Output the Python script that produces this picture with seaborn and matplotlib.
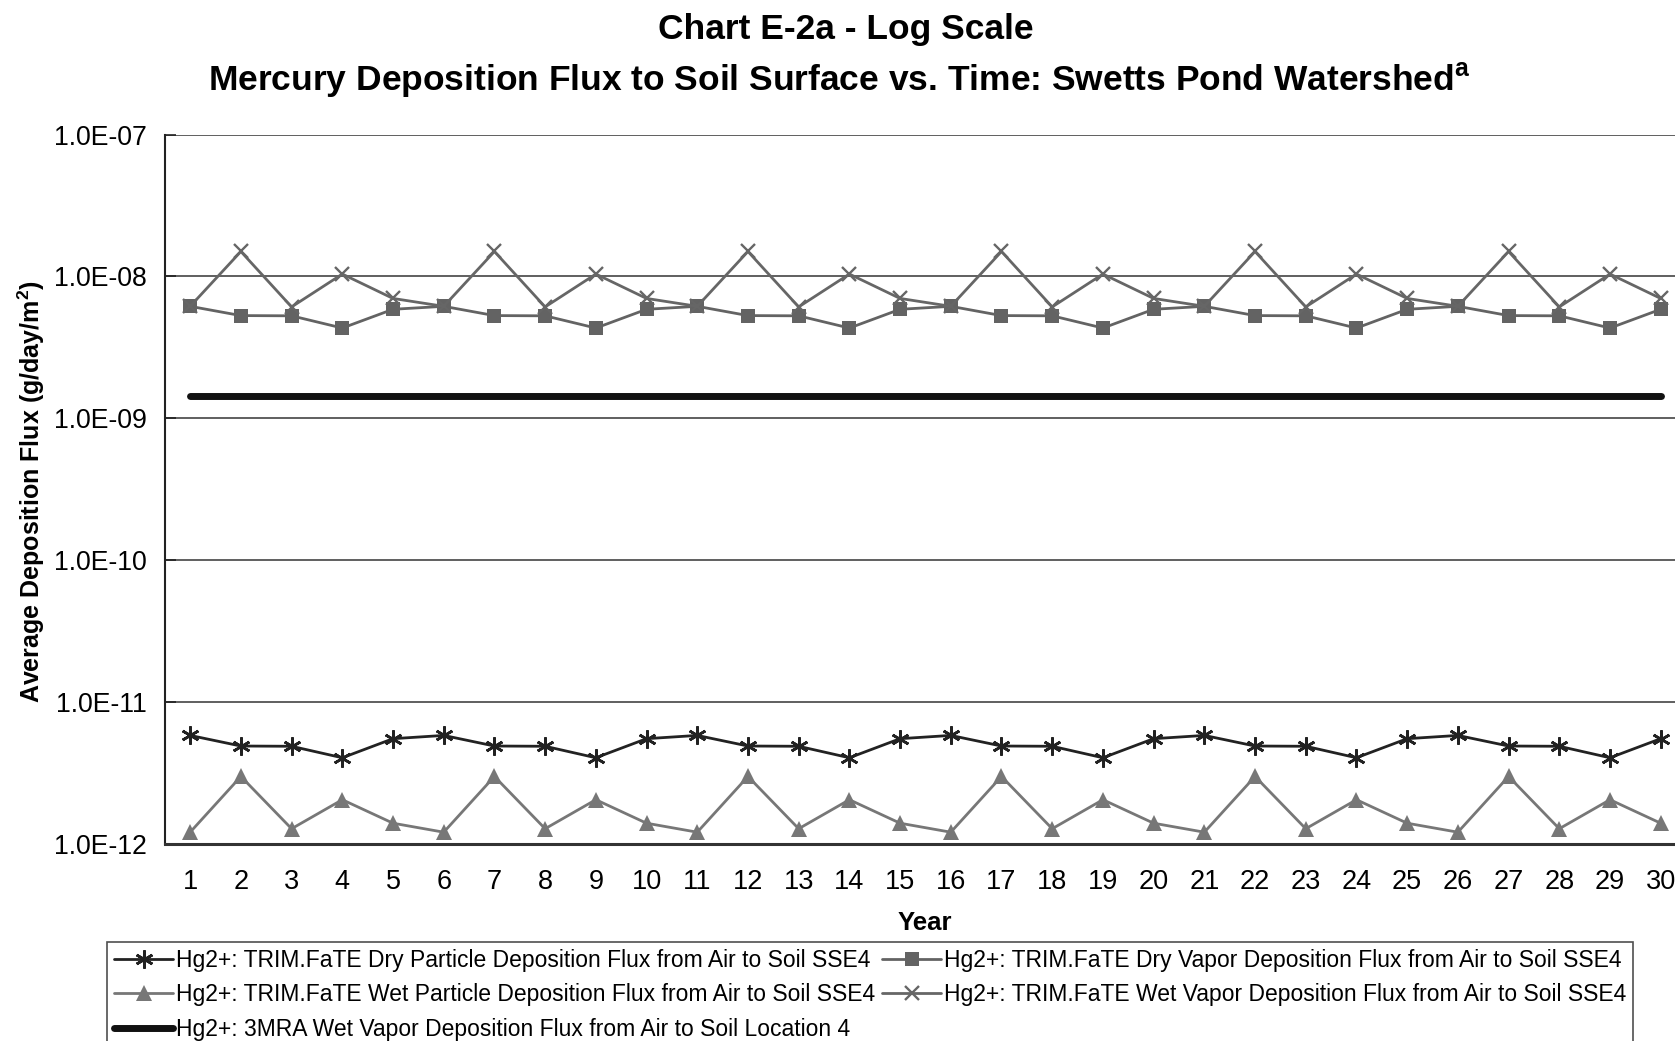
import matplotlib
matplotlib.use("Agg")
import matplotlib.pyplot as plt
import matplotlib.ticker as mticker
import seaborn as sns
import pandas as pd

years = list(range(1, 31))
year_labels = [str(y) for y in years]
ytick_values = [1e-12, 1e-11, 1e-10, 1e-9, 1e-8, 1e-7]

dry_particle = [5.82e-12, 4.90e-12, 4.88e-12, 4.05e-12, 5.52e-12,
                5.82e-12, 4.90e-12, 4.88e-12, 4.05e-12, 5.52e-12,
                5.82e-12, 4.90e-12, 4.88e-12, 4.05e-12, 5.52e-12,
                5.82e-12, 4.90e-12, 4.88e-12, 4.05e-12, 5.52e-12,
                5.82e-12, 4.90e-12, 4.88e-12, 4.05e-12, 5.52e-12,
                5.82e-12, 4.90e-12, 4.88e-12, 4.05e-12, 5.52e-12]
dry_vapor = [6.16e-9, 5.30e-9, 5.28e-9, 4.33e-9, 5.87e-9,
             6.16e-9, 5.30e-9, 5.28e-9, 4.33e-9, 5.87e-9,
             6.16e-9, 5.30e-9, 5.28e-9, 4.33e-9, 5.87e-9,
             6.16e-9, 5.30e-9, 5.28e-9, 4.33e-9, 5.87e-9,
             6.16e-9, 5.30e-9, 5.28e-9, 4.33e-9, 5.87e-9,
             6.16e-9, 5.30e-9, 5.28e-9, 4.33e-9, 5.87e-9]
wet_particle = [1.21e-12, 2.99e-12, 1.28e-12, 2.05e-12, 1.40e-12,
                1.21e-12, 2.99e-12, 1.28e-12, 2.05e-12, 1.40e-12,
                1.21e-12, 2.99e-12, 1.28e-12, 2.05e-12, 1.40e-12,
                1.21e-12, 2.99e-12, 1.28e-12, 2.05e-12, 1.40e-12,
                1.21e-12, 2.99e-12, 1.28e-12, 2.05e-12, 1.40e-12,
                1.21e-12, 2.99e-12, 1.28e-12, 2.05e-12, 1.40e-12]
wet_vapor = [6.16e-9, 1.50e-8, 6.10e-9, 1.04e-8, 7.00e-9,
             6.16e-9, 1.50e-8, 6.10e-9, 1.04e-8, 7.00e-9,
             6.16e-9, 1.50e-8, 6.10e-9, 1.04e-8, 7.00e-9,
             6.16e-9, 1.50e-8, 6.10e-9, 1.04e-8, 7.00e-9,
             6.16e-9, 1.50e-8, 6.10e-9, 1.04e-8, 7.00e-9,
             6.16e-9, 1.50e-8, 6.10e-9, 1.04e-8, 7.00e-9]
mra_wet_vapor = [1.43e-9, 1.43e-9, 1.43e-9, 1.43e-9, 1.43e-9,
                 1.43e-9, 1.43e-9, 1.43e-9, 1.43e-9, 1.43e-9,
                 1.43e-9, 1.43e-9, 1.43e-9, 1.43e-9, 1.43e-9,
                 1.43e-9, 1.43e-9, 1.43e-9, 1.43e-9, 1.43e-9,
                 1.43e-9, 1.43e-9, 1.43e-9, 1.43e-9, 1.43e-9,
                 1.43e-9, 1.43e-9, 1.43e-9, 1.43e-9, 1.43e-9]

labels = {
    "dp": "Hg2+: TRIM.FaTE Dry Particle Deposition Flux from Air to Soil SSE4",
    "dv": "Hg2+: TRIM.FaTE Dry Vapor Deposition Flux from Air to Soil SSE4",
    "wp": "Hg2+: TRIM.FaTE Wet Particle Deposition Flux from Air to Soil SSE4",
    "wv": "Hg2+: TRIM.FaTE Wet Vapor Deposition Flux from Air to Soil SSE4",
    "mra": "Hg2+: 3MRA Wet Vapor Deposition Flux from Air to Soil Location 4",
}

sns.set_style("white")
plt.rcParams["font.family"] = ["Liberation Sans", "DejaVu Sans"]
plt.rcParams["mathtext.fontset"] = "custom"
plt.rcParams["mathtext.rm"] = "Liberation Sans"
plt.rcParams["mathtext.bf"] = "Liberation Sans:bold"
plt.rcParams["text.color"] = "black"
plt.rcParams["axes.labelcolor"] = "black"
plt.rcParams["xtick.color"] = "black"
plt.rcParams["ytick.color"] = "black"

fig = plt.figure(figsize=(16.75, 10.41), dpi=100)
ax = fig.add_axes([0.0984, 0.1893, 0.9082, 0.6814])

df = pd.DataFrame({"year": years, "dp": dry_particle, "dv": dry_vapor,
                   "wp": wet_particle, "wv": wet_vapor, "mra": mra_wet_vapor})

h = {}
sns.lineplot(data=df, x="year", y="mra", ax=ax, color="#111111", linewidth=5,
             solid_capstyle="round", label=labels["mra"], zorder=2)
h["mra"] = ax.lines[-1]
sns.lineplot(data=df, x="year", y="dv", ax=ax, color="#636363", linewidth=2,
             marker="s", markersize=10, markeredgewidth=0, mec="#636363",
             label=labels["dv"], zorder=3)
h["dv"] = ax.lines[-1]
sns.lineplot(data=df, x="year", y="wv", ax=ax, color="#666666", linewidth=2,
             marker="x", markersize=10, markeredgewidth=1.7, mec="#666666",
             label=labels["wv"], zorder=3)
h["wv"] = ax.lines[-1]
sns.lineplot(data=df, x="year", y="dp", ax=ax, color="#222222", linewidth=2,
             marker=(6, 2, 0), markersize=13, markeredgewidth=1.9, mec="#222222",
             label=labels["dp"], zorder=3)
h["dp"] = ax.lines[-1]
sns.lineplot(data=df, x="year", y="wp", ax=ax, color="#777777", linewidth=2,
             marker="^", markersize=11, markeredgewidth=0, mec="#777777",
             label=labels["wp"], zorder=3)
h["wp"] = ax.lines[-1]
ax.get_legend().remove()

ax.set_yscale("log")
ax.set_ylim(1e-12, 1e-7)
ax.set_xlim(0.5, 30.5)
ax.set_yticks(ytick_values)
ax.yaxis.set_minor_locator(mticker.NullLocator())
ax.yaxis.set_major_formatter(mticker.FuncFormatter(lambda v, p: f"{v:.1E}"))
ax.set_xticks(years)
ax.set_xticklabels(year_labels)
ax.set_xticks([y + 0.5 for y in years[:-1]], minor=True)
ax.tick_params(axis="x", which="major", length=0, pad=18, labelsize=19.5)
ax.tick_params(axis="x", which="minor", direction="in", length=8, width=1, color="#222222")
ax.tick_params(axis="y", which="major", direction="in", length=8, width=1.2,
               labelsize=19.2, pad=13, color="#222222", left=True)

ax.grid(axis="y", color="#444444", linewidth=1.2)
ax.grid(axis="x", visible=False)
for s in ["top", "right"]:
    ax.spines[s].set_visible(False)
ax.spines["left"].set_color("#222222")
ax.spines["left"].set_linewidth(1.5)
ax.spines["bottom"].set_color("#333333")
ax.spines["bottom"].set_linewidth(2.2)

ax.set_xlabel("Year", fontsize=18.5, fontweight="bold")
ax.xaxis.set_label_coords(0.4998, -0.0952)
ax.set_ylabel(r"Average Deposition Flux (g/day/m$^{\mathbf{2}}$)", fontsize=18,
              fontweight="bold")
ax.yaxis.set_label_coords(-0.0775, 0.497)

fig.text(0.505, 0.972, "Chart E-2a - Log Scale", ha="center", va="center",
         fontsize=25.5, fontweight="bold")
fig.text(0.501, 0.923, r"Mercury Deposition Flux to Soil Surface vs. Time: Swetts Pond Watershed$^{\mathbf{a}}$",
         ha="center", va="center", fontsize=25.5, fontweight="bold")

order = ["dp", "wp", "mra", "dv", "wv"]
leg = fig.legend([h[k] for k in order], [labels[k] for k in order], ncol=2,
                 loc="upper left", bbox_to_anchor=(107 / 1675, 1 - 942 / 1041),
                 fontsize=16.5, frameon=True, fancybox=False, edgecolor="#222222",
                 handlelength=2.6, handletextpad=0.1, columnspacing=0.3,
                 labelspacing=0.5, borderpad=0.3, borderaxespad=0)
leg.get_frame().set_linewidth(1.2)

fig.savefig("out.png", dpi=100)
